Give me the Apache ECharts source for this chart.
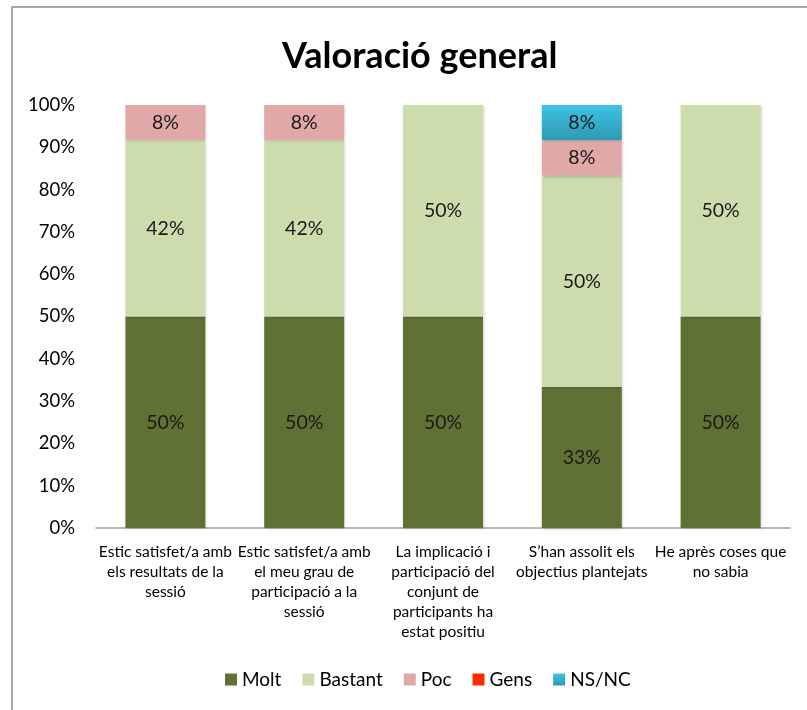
<!DOCTYPE html>
<html>
<head>
<meta charset="utf-8">
<script src="https://cdn.jsdelivr.net/npm/echarts@6/dist/echarts.min.js"></script>
<style>
  html, body { margin: 0; padding: 0; background: #fff; }
  #chart { width: 807px; height: 710px; }
</style>
</head>
<body>
<div id="chart"></div>
<script>
'use strict';

var categories = [
    'Estic satisfet/a amb\nels resultats de la\nsessió',
    'Estic satisfet/a amb\nel meu grau de\nparticipació a la\nsessió',
    'La implicació i\nparticipació del\nconjunt de\nparticipants ha\nestat positiu',
    'S\u2019han assolit els\nobjectius plantejats',
    'He après coses que\nno sabia'
];
var molt = [50, 50, 50, 33.33, 50];
var bastant = [41.67, 41.67, 50, 50, 50];
var poc = [8.33, 8.33, 0, 8.33, 0];
var gens = [0, 0, 0, 0, 0];
var nsnc = [0, 0, 0, 8.33, 0];
var seriesNames = ['Molt', 'Bastant', 'Poc', 'Gens', 'NS/NC'];

var fontFamily = 'Lato, "Open Sans", sans-serif';

function floatchart() {
    var myChart = echarts.init(document.getElementById('chart'));

    var colors = [
        '#5f7134',
        '#cddcad',
        '#e0a8a6',
        '#ff2a00',
        new echarts.graphic.LinearGradient(0, 0, 0, 1, [
            {offset: 0, color: '#3fc3e2'},
            {offset: 1, color: '#2c99b6'}
        ])
    ];
    var values = [molt, bastant, poc, gens, nsnc];

    var series = seriesNames.map(function (name, i) {
        return {
            name: name,
            type: 'bar',
            stack: 'total',
            barWidth: 80,
            data: values[i],
            itemStyle: {
                color: colors[i],
                shadowColor: 'rgba(0,0,0,0.18)',
                shadowBlur: 3,
                shadowOffsetX: 1,
                shadowOffsetY: 1
            },
            label: {
                show: true,
                color: '#1a1a1a',
                fontSize: 19.5,
                fontFamily: fontFamily,
                formatter: function (p) {
                    return p.value > 0 ? Math.round(p.value) + '%' : '';
                }
            }
        };
    });

    var option = {
        animation: false,
        backgroundColor: '#fff',
        title: {
            text: 'Valoració general',
            left: 277,
            top: 33,
            textStyle: {
                fontSize: 36,
                fontWeight: 'bold',
                color: '#000',
                fontFamily: fontFamily
            }
        },
        legend: {
            bottom: 16,
            left: 220,
            icon: 'rect',
            itemWidth: 12,
            itemHeight: 12,
            itemGap: 21,
            textStyle: {
                fontSize: 19,
                color: '#000',
                fontFamily: fontFamily
            },
            data: seriesNames
        },
        grid: {
            left: 96,
            right: 17,
            top: 105,
            bottom: 182,
            containLabel: false
        },
        xAxis: {
            type: 'category',
            data: categories,
            axisLine: {lineStyle: {color: '#a0a0a0', width: 1.5}},
            axisTick: {show: false},
            axisLabel: {
                interval: 0,
                margin: 14,
                color: '#000',
                fontSize: 15.5,
                lineHeight: 20,
                fontFamily: fontFamily
            }
        },
        yAxis: {
            type: 'value',
            min: 0,
            max: 100,
            interval: 10,
            axisLine: {show: false},
            axisTick: {show: false},
            splitLine: {show: false},
            axisLabel: {
                formatter: '{value}%',
                margin: 21,
                color: '#000',
                fontSize: 18.5,
                fontFamily: fontFamily
            }
        },
        graphic: [{
            type: 'rect',
            shape: {x: 12, y: 7, width: 900, height: 800},
            style: {fill: 'none', stroke: '#a6a6a6', lineWidth: 2},
            silent: true,
            z: 100
        }],
        series: series
    };

    myChart.setOption(option);

    window.onresize = function () {
        myChart.resize();
    };
}

floatchart();
</script>
</body>
</html>
